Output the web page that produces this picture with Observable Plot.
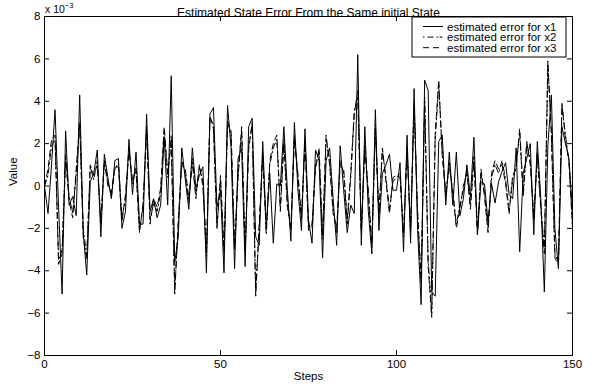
<!DOCTYPE html>
<html><head><meta charset="utf-8">
<script src="https://cdn.jsdelivr.net/npm/d3@7"></script>
<script src="https://cdn.jsdelivr.net/npm/@observablehq/plot@0.6"></script>
<style>
body{margin:0;background:#fff;}
#chart{width:593px;height:390px;}
</style>
</head><body><div id="chart"></div>
<script>
// values are in units of 1e-3
const titleText = "Estimated State Error From the Same initial State";
const xLabel = "Steps";
const yLabel = "Value";
const seriesNames = ["estimated error for x1", "estimated error for x2", "estimated error for x3"];
const xTicks = [0, 50, 100, 150];
const yTicks = [-8, -6, -4, -2, 0, 2, 4, 6, 8];

const x1 = [0,-1.3,1.0,3.6,-1.0,-5.1,2.6,-0.9,-0.5,-1.4,4.3,-2.2,-4.2,0.2,0.6,1.7,-2.4,1.5,0.4,-0.6,
1.2,1.3,-2.0,-1.2,2.2,-0.4,1.6,-1.8,-1.8,3.4,-1.2,-0.6,-1.5,-0.9,2.3,-0.9,5.2,-3.6,-2.4,1.8,
0.3,-1.1,1.8,-0.1,0.5,0.9,-4.1,3.4,3.7,-1.0,-0.2,-4.1,3.8,1.8,-3.9,1.3,1.8,-3.8,2.8,3.2,
-2.4,-2.8,2.1,-2.0,0.6,-2.7,0.1,0.0,2.8,-0.2,-2.6,3.0,-0.2,-2.1,2.7,-1.6,-2.7,1.7,1.2,-3.4,
1.2,1.8,-0.6,-2.8,1.9,-0.2,-2.2,-0.9,-1.3,6.2,-2.8,2.8,-1.2,-3.2,3.6,-2.1,0.6,1.0,1.5,-0.2,
-0.2,1.1,-3.1,2.4,-2.7,4.6,-2.1,-5.6,5.0,4.5,-5.0,-5.2,2.1,2.4,-0.9,1.6,-0.9,1.6,-1.4,-0.6,
1.0,-0.5,2.3,-2.3,0.2,0.1,-1.7,0.1,-0.8,0.2,0.7,1.1,-0.4,-0.6,1.8,-3.1,0.6,1.3,2.0,-2.3,
2.1,-0.6,-5.0,1.9,4.3,-2.0,-3.9,2.8,2.0,1.3,-1.2];

const x2 = [0,0.5,1.9,2.2,-3.5,-3.0,1.5,-0.5,-1.3,0.5,2.9,-2.0,-3.3,0.9,0.3,1.2,-1.8,1.1,0.2,-0.5,
0.8,1.1,-1.5,-0.6,1.8,0.1,0.9,-2.1,-1.0,2.8,-1.6,-0.8,-1.2,-0.3,2.6,0.4,2.4,-4.9,-1.9,1.2,
0.6,-0.8,1.3,-0.4,0.9,0.2,-3.3,3.2,2.9,-1.9,0.3,-3.2,3.1,2.4,-3.0,0.6,2.6,-3.1,1.9,2.9,
-5.0,-2.0,1.6,-2.3,1.0,1.8,2.2,-1.0,2.2,-0.8,-2.1,2.4,0.4,-1.6,2.2,-1.9,-2.0,1.0,1.6,-2.5,
2.2,1.2,-1.1,-2.2,1.2,0.6,-1.8,0.4,3.4,4.5,-2.2,1.9,-0.4,-2.9,2.9,-1.5,1.7,0.4,-1.1,0.2,
0.4,0.6,-2.4,1.8,-2.2,3.9,-1.4,-4.6,4.2,-3.5,-6.0,2.2,4.8,1.6,-0.5,1.1,-0.4,-1.8,-0.9,-0.2,
0.8,-0.9,1.4,-2.1,0.6,-0.3,-2.0,0.4,1.0,0.6,1.2,0.3,-1.2,0.3,1.0,2.5,-0.5,2.0,1.2,-1.6,
1.6,-0.9,-3.0,5.7,2.6,-3.2,-3.6,3.8,2.4,1.1,-1.8];

const x3 = [0,0.8,2.2,2.4,-3.7,-3.2,1.2,-0.7,-1.5,0.8,3.0,-2.4,-3.5,1.0,0.5,1.0,-1.6,1.2,0.0,-0.3,
0.9,0.9,-1.7,-0.4,1.6,0.3,0.7,-2.2,-0.8,2.6,-1.8,-0.6,-1.0,-0.1,2.8,0.6,2.0,-5.1,-1.6,1.0,
0.8,-0.6,1.1,-0.6,1.0,0.0,-3.1,3.3,2.7,-2.0,0.5,-3.0,2.9,2.6,-2.8,0.4,2.8,-2.9,1.7,3.0,
-5.2,-1.8,1.4,-2.1,1.2,2.0,2.4,-1.2,2.0,-1.0,-1.9,2.2,0.6,-1.4,2.0,-2.1,-1.8,0.8,1.8,-2.3,
2.4,1.0,-1.3,-2.0,1.0,0.8,-1.6,0.6,3.5,4.2,-2.0,1.7,-0.2,-2.7,2.7,-1.3,1.8,0.2,-1.3,0.4,
0.5,0.4,-2.2,1.6,-2.0,3.7,-1.2,-4.4,4.0,-3.8,-6.2,2.5,5.0,1.4,-0.3,0.9,-0.2,-2.0,-1.1,0.0,
0.6,-1.1,1.2,-2.3,0.8,-0.5,-2.2,0.6,1.2,0.8,1.0,0.1,-1.3,0.5,0.8,2.7,-0.3,2.1,1.0,-1.4,
1.4,-1.1,-3.2,5.9,2.4,-3.4,-3.7,3.9,2.2,1.2,-2.0];

const W = 593, H = 390;
const mL = 44, mR = 21, mT = 16, mB = 35;
const plotW = W - mL - mR, plotH = H - mT - mB;
const font = "'Liberation Sans', Arial, Helvetica, sans-serif";
const fs = 11.5;
const dashes = [null, "6,3,1.5,3", "6,4"];

const rows = (arr) => arr.map((v, i) => ({step: i, value: v}));
const allSeries = [x1, x2, x3];

const chart = Plot.plot({
  width: W, height: H,
  marginLeft: mL, marginRight: mR, marginTop: mT, marginBottom: mB,
  style: {fontFamily: font, fontSize: fs + "px", color: "black", background: "white"},
  x: {domain: [0, 150]},
  y: {domain: [-8, 8]},
  marks: [
    ...allSeries.map((s, k) => Plot.line(rows(s), {x: "step", y: "value", stroke: "black", strokeWidth: 1, strokeDasharray: dashes[k]})),
    Plot.ruleX(xTicks, {x: d => d, insetTop: plotH - 5, stroke: "black"}),
    Plot.ruleX(xTicks, {x: d => d, insetBottom: plotH - 5, stroke: "black"}),
    Plot.ruleY(yTicks, {y: d => d, insetRight: plotW - 5, stroke: "black"}),
    Plot.ruleY(yTicks, {y: d => d, insetLeft: plotW - 5, stroke: "black"}),
    Plot.frame({stroke: "black", strokeWidth: 1}),
    Plot.axisX({ticks: xTicks, tickSize: 0, tickPadding: 4, label: null, fontSize: fs, tickFormat: d => String(d)}),
    Plot.axisY({ticks: yTicks, tickSize: 0, tickPadding: 4, label: null, fontSize: fs}),
    Plot.text([xLabel], {frameAnchor: "bottom", dy: 24, text: d => d, fontSize: fs}),
    Plot.text([yLabel], {frameAnchor: "left", dx: -31, rotate: -90, text: d => d, fontSize: fs}),
    Plot.text([titleText], {frameAnchor: "top", dy: -8, text: d => d, fontSize: 12})
  ]
});
document.getElementById("chart").appendChild(chart);

// exponent label and legend (decorations)
const svg = d3.select(chart);
const exp = svg.append("text").attr("x", mL + 1).attr("y", mT - 3).attr("text-anchor", "start")
  .attr("font-family", font).attr("font-size", 10.5).attr("fill", "black");
exp.append("tspan").text("x 10");
exp.append("tspan").attr("dy", -5).attr("font-size", 7.5).text("\u22123");

const legRight = W - mR - 6, legLeft = legRight - 154, legTop = mT + 1, rowH = 10.6;
const g = svg.append("g");
g.append("rect").attr("x", legLeft).attr("y", legTop).attr("width", legRight - legLeft).attr("height", 40)
  .attr("fill", "white").attr("stroke", "black").attr("stroke-width", 1);
seriesNames.forEach((name, k) => {
  const cy = legTop + 9.5 + k * rowH;
  g.append("line").attr("x1", legLeft + 11).attr("x2", legLeft + 31).attr("y1", cy).attr("y2", cy)
    .attr("stroke", "black").attr("stroke-width", 1)
    .attr("stroke-dasharray", k === 1 ? "1.5,3,6,3,1.5" : dashes[k]);
  g.append("text").attr("x", legLeft + 35).attr("y", cy).attr("dy", "0.35em").attr("text-anchor", "start")
    .attr("font-family", font).attr("font-size", fs).attr("fill", "black").text(name);
});
</script>
</body></html>
